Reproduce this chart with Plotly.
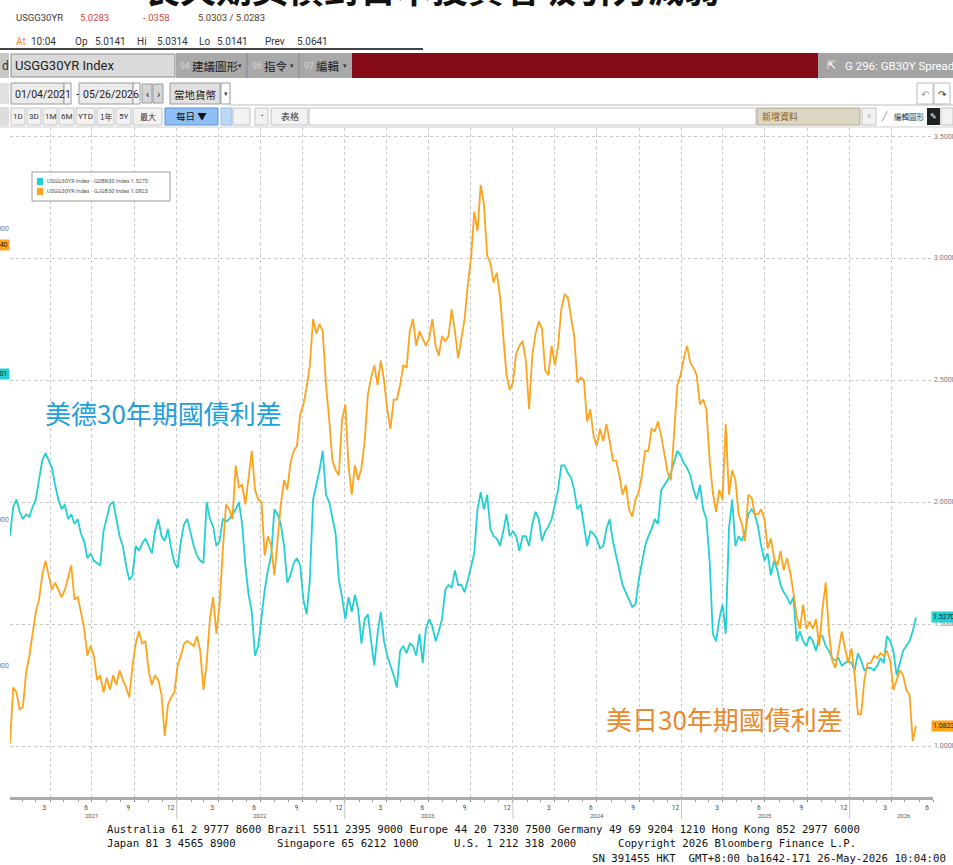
import pandas as pd
import plotly.graph_objects as go

W, H = 953, 865

# weekly readings, 2021-01-04 .. 2026-05-25
weeks = pd.date_range("2021-01-04", periods=282, freq="7D")

us_de_30y = [
    1.86, 1.98, 2.01, 1.96, 1.93, 1.95, 1.94, 1.98, 2.01, 2.09,
    2.17, 2.20, 2.17, 2.14, 2.07, 2.01, 1.97, 1.99, 1.93, 1.95,
    1.91, 1.93, 1.87, 1.84, 1.77, 1.79, 1.76, 1.75, 1.74, 1.88,
    1.93, 1.99, 2.00, 1.93, 1.86, 1.82, 1.74, 1.68, 1.70, 1.82,
    1.80, 1.83, 1.85, 1.82, 1.79, 1.88, 1.93, 1.86, 1.84, 1.89,
    1.81, 1.75, 1.73, 1.84, 1.91, 1.93, 1.87, 1.82, 1.78, 1.76,
    1.75, 2.00, 1.93, 1.90, 1.82, 1.84, 1.93, 1.92, 1.93, 1.95,
    1.97, 2.00, 1.91, 1.74, 1.62, 1.55, 1.37, 1.41, 1.54, 1.64,
    1.72, 1.78, 1.97, 1.95, 1.91, 1.82, 1.67, 1.70, 1.75, 1.77,
    1.74, 1.60, 1.54, 1.68, 2.01, 2.07, 2.13, 2.21, 2.03, 2.00,
    1.93, 1.87, 1.68, 1.61, 1.52, 1.61, 1.55, 1.62, 1.56, 1.42,
    1.52, 1.54, 1.43, 1.33, 1.46, 1.55, 1.43, 1.37, 1.33, 1.29,
    1.24, 1.39, 1.41, 1.38, 1.42, 1.41, 1.37, 1.46, 1.34, 1.48,
    1.52, 1.49, 1.43, 1.47, 1.52, 1.64, 1.66, 1.65, 1.72, 1.66,
    1.66, 1.63, 1.68, 1.74, 1.79, 1.97, 2.04, 1.97, 2.03, 1.89,
    1.86, 1.85, 1.82, 1.88, 1.95, 1.86, 1.88, 1.86, 1.80, 1.86,
    1.86, 1.82, 1.91, 1.96, 1.93, 1.84, 1.88, 1.90, 1.93, 1.99,
    2.05, 2.15, 2.15, 2.12, 2.10, 2.05, 1.97, 1.99, 1.91, 1.82,
    1.88, 1.87, 1.85, 1.81, 1.82, 1.89, 1.93, 1.84, 1.78, 1.72,
    1.66, 1.63, 1.60, 1.57, 1.58, 1.68, 1.75, 1.82, 1.86, 1.89,
    1.93, 1.91, 2.05, 2.07, 2.09, 2.12, 2.17, 2.21, 2.19, 2.16,
    2.14, 2.11, 2.05, 2.01, 2.07, 1.97, 1.93, 1.76, 1.46, 1.43,
    1.52, 1.58, 1.46, 1.89, 2.01, 1.82, 1.86, 1.84, 1.88, 1.95,
    1.97, 1.95, 1.90, 1.82, 1.76, 1.79, 1.70, 1.76, 1.72, 1.66,
    1.63, 1.61, 1.58, 1.61, 1.43, 1.47, 1.43, 1.41, 1.45, 1.43,
    1.39, 1.45, 1.45, 1.41, 1.39, 1.36, 1.35, 1.36, 1.33, 1.34,
    1.35, 1.34, 1.31, 1.38, 1.35, 1.31, 1.32, 1.32, 1.31, 1.33,
    1.36, 1.34, 1.45, 1.43, 1.39, 1.29, 1.34, 1.39, 1.41, 1.43,
    1.47, 1.527,
]

us_jp_30y = [
    1.01, 1.24, 1.22, 1.15, 1.16, 1.30, 1.37, 1.46, 1.55, 1.60,
    1.70, 1.76, 1.70, 1.64, 1.67, 1.64, 1.61, 1.64, 1.69, 1.74,
    1.60, 1.61, 1.55, 1.48, 1.37, 1.41, 1.37, 1.27, 1.29, 1.22,
    1.28, 1.23, 1.29, 1.25, 1.31, 1.27, 1.24, 1.20, 1.33, 1.42,
    1.47, 1.42, 1.43, 1.31, 1.25, 1.29, 1.27, 1.21, 1.04, 1.17,
    1.20, 1.22, 1.33, 1.37, 1.42, 1.43, 1.42, 1.41, 1.45, 1.39,
    1.23, 1.34, 1.52, 1.61, 1.46, 1.58, 1.80, 1.99, 1.97, 1.93,
    2.15, 2.06, 2.07, 1.99, 2.10, 2.21, 2.05, 2.01, 2.00, 1.78,
    1.86, 1.82, 1.70, 1.84, 1.99, 2.09, 2.05, 2.16, 2.21, 2.23,
    2.36, 2.40, 2.47, 2.56, 2.75, 2.69, 2.73, 2.70, 2.48, 2.34,
    2.17, 2.13, 2.11, 2.34, 2.40, 2.15, 2.03, 2.15, 2.09, 2.14,
    2.25, 2.44, 2.51, 2.56, 2.48, 2.58, 2.50, 2.38, 2.30, 2.42,
    2.42, 2.48, 2.56, 2.55, 2.70, 2.75, 2.64, 2.70, 2.67, 2.64,
    2.67, 2.75, 2.64, 2.60, 2.68, 2.66, 2.68, 2.79, 2.70, 2.59,
    2.67, 2.75, 2.89, 3.00, 3.19, 3.11, 3.30, 3.22, 3.01, 2.98,
    2.90, 2.94, 2.84, 2.66, 2.52, 2.46, 2.49, 2.61, 2.64, 2.66,
    2.58, 2.38, 2.60, 2.69, 2.74, 2.71, 2.54, 2.52, 2.64, 2.56,
    2.64, 2.79, 2.85, 2.84, 2.76, 2.68, 2.49, 2.51, 2.50, 2.33,
    2.38, 2.27, 2.23, 2.30, 2.25, 2.32, 2.25, 2.17, 2.17, 2.11,
    2.03, 2.07, 1.97, 1.94, 2.01, 2.04, 2.11, 2.21, 2.21, 2.30,
    2.29, 2.33, 2.27, 2.19, 2.12, 2.09, 2.29, 2.48, 2.52, 2.59,
    2.64, 2.57, 2.55, 2.52, 2.40, 2.42, 2.38, 2.17, 2.04, 1.96,
    2.05, 2.01, 2.32, 2.03, 2.13, 2.09, 1.95, 1.91, 1.84, 2.03,
    2.02, 1.95, 1.95, 1.97, 1.93, 1.81, 1.85, 1.77, 1.74, 1.80,
    1.72, 1.77, 1.71, 1.63, 1.53, 1.48, 1.58, 1.48, 1.51, 1.48,
    1.52, 1.41, 1.56, 1.67, 1.47, 1.35, 1.32, 1.40, 1.47, 1.40,
    1.34, 1.40, 1.29, 1.13, 1.13, 1.27, 1.34, 1.34, 1.37, 1.36,
    1.38, 1.37, 1.39, 1.35, 1.23, 1.27, 1.31, 1.29, 1.23, 1.21,
    1.02, 1.0823,
]

de_name = "USGG30YR Index - GDBR30 Index"
jp_name = "USGG30YR Index - GJGB30 Index"
de_last = 1.5270
jp_last = 1.0823

right_ticks = [1.0, 1.5, 2.0, 2.5, 3.0, 3.5]
left_ticks = [1.5, 2.0, 2.5, 3.0]
left_tag_jp = 2.9440
left_tag_de = 2.5001

quarter_marks = pd.date_range("2021-04-01", "2026-07-01", freq="QS-JAN")
quarter_text = [str((d - pd.DateOffset(months=1)).month) for d in quarter_marks]
year_labels = ["2021", "2022", "2023", "2024", "2025", "2026"]
year_label_at = ["2021-07-01", "2022-07-01", "2023-07-01", "2024-07-01", "2025-07-01", "2026-04-28"]
year_starts = ["2022-01-01", "2023-01-01", "2024-01-01", "2025-01-01", "2026-01-01"]

TEAL = "#22CFD2"
ORANGE = "#FDA31C"
NARROW = "Roboto, Liberation Sans, sans-serif"
CJK = "Noto Sans CJK TC, Noto Sans CJK SC, sans-serif"
MONO = "DejaVu Sans Mono, Liberation Mono, monospace"


def X(px):
    return px / W


def Y(py):
    return 1 - py / H


shapes = []
notes = []


def box(x0, y0, x1, y1, fill, edge=None):
    shapes.append(dict(type="rect", xref="paper", yref="paper",
                       x0=X(x0), x1=X(x1), y0=Y(y1), y1=Y(y0),
                       fillcolor=fill, line=dict(color=edge or fill, width=1 if edge else 0)))


def hline(x0, x1, y, color, width=1):
    shapes.append(dict(type="line", xref="paper", yref="paper",
                       x0=X(x0), x1=X(x1), y0=Y(y), y1=Y(y),
                       line=dict(color=color, width=width)))


def text(x, y, s, size=11, color="#333", family=NARROW, anchor="left"):
    notes.append(dict(xref="paper", yref="paper", x=X(x), y=Y(y), text=s,
                      showarrow=False, xanchor=anchor, yanchor="middle",
                      font=dict(size=size, color=color, family=family)))


# title (mostly cut off at the top of the screenshot)
notes.append(dict(xref="paper", yref="paper", x=X(432), y=Y(-13),
                  text="<b>長天期美債對日本投資者吸引力減弱</b>", showarrow=False,
                  xanchor="center", yanchor="middle",
                  font=dict(size=36, color="#111", family=CJK)))

# quote lines
for s, x, c in [("USGG30YR", 14, "#3a3a3a"), ("5.0283", 78, "#d2453c"),
                ("-.0358", 141, "#d2453c"), ("5.0303 / 5.0283", 196, "#5a3a1a")]:
    text(x, 18, s, 9.5, c)
for s, x, c in [("At", 14, "#f08a24"), ("10:04", 29, "#333"), ("Op", 73, "#333"),
                ("5.0141", 93, "#333"), ("Hi", 135, "#333"), ("5.0314", 155, "#333"),
                ("Lo", 197, "#333"), ("5.0141", 215, "#333"), ("Prev", 263, "#333"),
                ("5.0641", 295, "#333")]:
    text(x, 41, s, 10, c)
hline(0, 423, 49, "#444", 2)

# command bar
box(0, 53, 9, 78, "#c8c8c8")
text(0, 66, "d", 12, "#333")
box(11, 54, 175, 77, "#dadada", "#8a8a8a")
text(13, 66, "USGG30YR Index", 13, "#222")
box(176, 53, 352, 78, "#a9a9a9")
for x in [247, 299]:
    shapes.append(dict(type="line", xref="paper", yref="paper", x0=X(x), x1=X(x),
                       y0=Y(78), y1=Y(53), line=dict(color="#888", width=1)))
for num, label, x in [("94", "建議圖形", 178), ("96", "指令", 250), ("97", "編輯", 302)]:
    text(x, 66, num, 9, "#d4d4d4")
    text(x + 12, 66, label, 11.5, "#222", CJK)
for x in [240, 292, 345]:
    text(x, 66, "▾", 7, "#333", anchor="center")
box(352, 53, 818, 78, "#850b17")
box(818, 53, 953, 78, "#a3a3a3")
text(825, 66, "⇱", 11, "#fff", "DejaVu Sans")
text(843, 66, "G 296: GB30Y Spread", 11.5, "#fff")

# date row
box(0, 83, 9, 104, "#e0e0e0")
box(11, 83, 64, 104, "#ececec", "#9a9a9a")
text(13, 94, "01/04/2021", 10.5, "#222")
box(64, 83, 71, 104, "#f6f6f6", "#9a9a9a")
text(74, 94, "-", 11, "#222")
box(79, 83, 133, 104, "#ececec", "#9a9a9a")
text(81, 94, "05/26/2026", 10.5, "#222")
box(133, 83, 140, 104, "#f6f6f6", "#9a9a9a")
box(142, 84, 152, 103, "#d6d6d6", "#9a9a9a")
text(147, 94, "‹", 11, "#222", anchor="center")
box(153, 84, 163, 103, "#d6d6d6", "#9a9a9a")
text(158, 94, "›", 11, "#222", anchor="center")
box(170, 83, 220, 104, "#e0e0e0", "#9a9a9a")
text(172, 94, "當地貨幣", 10.5, "#222", CJK)
box(221, 83, 230, 104, "#ffffff", "#9a9a9a")
text(225.5, 94, "▾", 7, "#444", anchor="center")
box(917, 83, 933, 104, "#ffffff", "#bbbbbb")
text(925, 94, "↶", 10, "#999", "DejaVu Sans", "center")
box(934, 83, 950, 104, "#ffffff", "#bbbbbb")
text(942, 94, "↷", 10, "#333", "DejaVu Sans", "center")
hline(230, 953, 105, "#bdbdbd")

# period buttons
box(0, 107, 9, 126, "#dddddd")
for label, x0, x1 in [("1D", 11, 25), ("3D", 27, 41), ("1M", 43, 57), ("6M", 59, 74),
                      ("YTD", 76, 95), ("1年", 97, 114), ("5Y", 116, 131), ("最大", 133, 162)]:
    box(x0, 108, x1, 125, "#f2f2f2", "#c4c4c4")
    text((x0 + x1) / 2, 116.5, label, 8, "#333", NARROW if label.isascii() else CJK, "center")
box(165, 108, 218, 125, "#8fc0f5", "#5a8fd0")
text(191.5, 116.5, "每日 ▼", 9.5, "#111", CJK, "center")
box(221, 108, 232, 125, "#bcd6f5", "#9ab8e0")
box(233, 108, 250, 125, "#f2f2f2", "#c4c4c4")
box(255, 108, 268, 125, "#f2f2f2", "#c4c4c4")
text(261.5, 116.5, "•", 7, "#333", anchor="center")
box(271, 108, 308, 125, "#f2f2f2", "#c4c4c4")
text(289.5, 116.5, "表格", 9, "#333", CJK, "center")
box(309, 108, 756, 125, "#ffffff", "#c4c4c4")
box(757, 108, 860, 125, "#dcd6c4", "#b0a890")
text(760, 116.5, "新增資料", 9, "#8a5a20", CJK)
box(862, 108, 876, 125, "#f2f2f2", "#c4c4c4")
text(869, 116.5, "«", 9, "#aaa", anchor="center")
text(884, 116.5, "╱", 9, "#888", "DejaVu Sans", "center")
text(892, 116.5, "編輯圖形", 7.5, "#333", CJK)
box(927, 108, 940, 125, "#222222")
text(933.5, 116.5, "✎", 8, "#fff", "DejaVu Sans", "center")
box(941, 108, 953, 125, "#f2f2f2", "#c4c4c4")
hline(0, 953, 127, "#cfcfcf")

# legend box
box(32, 172, 170, 201, "#ffffff", "#9a9a9a")
for (name, val, col), yy in zip([(de_name, de_last, TEAL), (jp_name, jp_last, ORANGE)], [181.5, 191.5]):
    box(37, yy - 3.5, 43, yy + 3.5, col)
    text(45, yy, f"{name} {val:.4f}", 5.6, "#555")

# year separators under the date axis
for d in year_starts:
    shapes.append(dict(type="line", xref="x", yref="paper", x0=d, x1=d,
                       y0=Y(819), y1=Y(799), line=dict(color="#c4c4c4", width=1)))
for lab, d in zip(year_labels, year_label_at):
    notes.append(dict(xref="x", yref="paper", x=d, y=Y(815), text=lab, showarrow=False,
                      xanchor="center", yanchor="middle",
                      font=dict(size=6, color="#555", family=NARROW)))

# end-value tags
for val, col in [(de_last, TEAL), (jp_last, ORANGE)]:
    notes.append(dict(xref="paper", yref="y", x=X(931), y=val, text=f"{val:.4f}",
                      showarrow=False, xanchor="left", yanchor="middle", bgcolor=col,
                      borderpad=1, font=dict(size=7, color="#1a1a1a", family=NARROW)))
for val, col in [(left_tag_jp, ORANGE), (left_tag_de, TEAL)]:
    notes.append(dict(xref="paper", yref="y2", x=X(10), y=val, text=f"{val:.4f}",
                      showarrow=False, xanchor="right", yanchor="middle", bgcolor=col,
                      borderpad=1, font=dict(size=7, color="#1a1a1a", family=NARROW)))

# series captions
notes.append(dict(xref="paper", yref="paper", x=X(163), y=Y(412), text="美德30年期國債利差",
                  showarrow=False, xanchor="center", yanchor="middle",
                  font=dict(size=26, color="#1E9EDD", family=CJK)))
notes.append(dict(xref="paper", yref="paper", x=X(724), y=Y(718), text="美日30年期國債利差",
                  showarrow=False, xanchor="center", yanchor="middle",
                  font=dict(size=26, color="#E88A2C", family=CJK)))

# footer
text(105, 829, "Australia 61 2 9777 8600 Brazil 5511 2395 9000 Europe 44 20 7330 7500 "
     "Germany 49 69 9204 1210 Hong Kong 852 2977 6000", 10.7, "#111", MONO)
text(105, 843, "Japan 81 3 4565 8900", 10.7, "#111", MONO)
text(275, 843, "Singapore 65 6212 1000", 10.7, "#111", MONO)
text(452, 843, "U.S. 1 212 318 2000", 10.7, "#111", MONO)
text(858, 843, "Copyright 2026 Bloomberg Finance L.P.", 10.7, "#111", MONO, "right")
text(948, 858, "SN 391455 HKT  GMT+8:00 ba1642-171 26-May-2026 10:04:00", 10.7, "#111", MONO, "right")

fig = go.Figure()
fig.add_trace(go.Scatter(x=weeks, y=us_de_30y, mode="lines", name=de_name,
                         line=dict(color=TEAL, width=1.8)))
fig.add_trace(go.Scatter(x=weeks, y=us_jp_30y, mode="lines", name=jp_name,
                         line=dict(color=ORANGE, width=1.8)))
fig.add_trace(go.Scatter(x=[None], y=[None], yaxis="y2", hoverinfo="skip"))

grid = dict(showgrid=True, gridcolor="#c6c6c6", griddash="dot", gridwidth=1, zeroline=False)
fig.update_layout(
    width=W, height=H,
    template="none",
    margin=dict(l=0, r=0, t=0, b=0),
    paper_bgcolor="white",
    plot_bgcolor="white",
    font=dict(family=NARROW),
    showlegend=False,
    xaxis=dict(domain=[X(10), X(933)], range=["2021-01-04", "2026-07-01"], type="date",
               tickmode="array", tickvals=quarter_marks, ticktext=quarter_text,
               ticks="outside", ticklen=2, tickcolor="#8c8c8c", ticklabelshift=-6,
               tickfont=dict(size=6.5, color="#444"), showline=True, linecolor="#ababab",
               linewidth=3, automargin=False,
               minor=dict(dtick="M1", tick0="2021-01-01", ticks="outside", ticklen=2,
                          tickcolor="#9a9a9a", showgrid=False),
               **grid),
    yaxis=dict(domain=[Y(797), Y(128)], range=[0.791, 3.533], side="right",
               tickmode="array", tickvals=right_ticks, tickformat=".4f", ticks="",
               tickfont=dict(size=7, color="#7a7a7a"), showline=False,
               automargin=False, **grid),
    yaxis2=dict(overlaying="y", anchor="x", side="left", range=[1.048, 3.347],
                tickmode="array", tickvals=left_ticks, tickformat=".4f", ticks="",
                tickfont=dict(size=7, color="#7a7a7a"), showgrid=False,
                zeroline=False, showline=False, automargin=False),
    shapes=shapes,
    annotations=notes,
)

fig.write_html("out.html", config={"displayModeBar": False},
               post_script="document.body.style.margin='0';")
